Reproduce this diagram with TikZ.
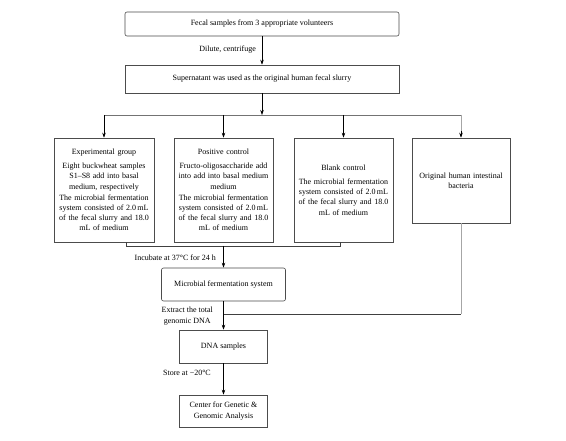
\documentclass[tikz,border=0pt]{standalone}
\usepackage{fontspec}
\setmainfont{Liberation Serif}
\usetikzlibrary{arrows.meta,calc}
\begin{document}
\begin{tikzpicture}[x=1pt,y=-1pt,
  font=\fontsize{8}{10.2}\selectfont,
  box/.style={draw=black!70,line width=0.6pt,align=center,inner sep=1pt},
  rbox/.style={box,rounded corners=2pt},
  arr/.style={draw=black,line width=0.6pt,-{Stealth[length=5pt,width=3.5pt]}},
  ln/.style={draw=black!55,line width=0.6pt},
  lg/.style={draw=black!35,line width=0.9pt},
  lab/.style={inner sep=1pt,align=center}]
\useasboundingbox (0,0) rectangle (566,441);
\fill[white] (0,0) rectangle (566,441);

\node[rbox,minimum width=274pt,minimum height=24pt] (top) at (262,24) {Fecal samples from 3 appropriate volunteers};
\node[box,minimum width=274pt,minimum height=28pt] (slurry) at (262,79) {Supernatant was used as the original human fecal slurry};

\node[box,minimum width=100pt,minimum height=104pt,text width=98pt] (exp) at (104,190)
  {Experimental group\\[4pt]Eight buckwheat samples\\S1--S8 add into basal\\medium, respectively\\[1pt]The microbial fermentation\\system consisted of 2.0\,mL\\of the fecal slurry and 18.0\\mL of medium};
\node[box,minimum width=99pt,minimum height=104pt,text width=97pt] (pos) at (223.5,190)
  {Positive control\\[4pt]Fructo-oligosaccharide add\\into add into basal medium\\medium\\[1pt]The microbial fermentation\\system consisted of 2.0\,mL\\of the fecal slurry and 18.0\\mL of medium};
\node[box,minimum width=99pt,minimum height=104pt,text width=97pt] (blank) at (343.5,190)
  {Blank control\\[4pt]The microbial fermentation\\system consisted of 2.0\,mL\\of the fecal slurry and 18.0\\mL of medium};
\node[box,minimum width=98pt,minimum height=85pt,text width=94pt] (orig) at (461,180.5)
  {Original human intestinal\\bacteria};

\node[rbox,minimum width=124pt,minimum height=33pt] (micro) at (223.5,284.5) {Microbial fermentation system};
\node[box,minimum width=88pt,minimum height=33pt] (dna) at (223.5,346.5) {DNA samples};
\node[box,minimum width=88pt,minimum height=32pt] (cga) at (223.5,411) {Center for Genetic \&\\Genomic Analysis};

% top to slurry
\draw[arr] (top) -- (slurry);
\node[lab,anchor=east] (l1) at (257,50) {Dilute, centrifuge};

% branching
\coordinate (br) at (262,115);
\draw[ln] (br -| exp.north) -- (br -| orig.north);
\draw[arr] (slurry) -- (br);
\draw[arr] (br -| exp.north) -- (exp.north);
\draw[arr] (br -| pos.north) -- (pos.north);
\draw[arr] (br -| blank.north) -- (blank.north);
\draw[lg] (br -| orig.north) -- ($(orig.north)+(0,-7)$);
\draw[arr] ($(orig.north)+(0,-7)$) -- (orig.north);

% collecting
\coordinate (c1) at (126,246);
\coordinate (c2) at (340,246);
\draw[ln,draw=black!75] (c1 |- exp.south) -- (c1) -- (c2) -- (c2 |- blank.south);
\draw[arr] (c1 -| micro.north) -- (micro.north);
\node[lab,anchor=east] (l2) at (217,258) {Incubate at 37°C for 24 h};

% micro to dna
\coordinate (c3) at (223.5,314);
\draw[ln,draw=black!75] (c3) -- (c3 -| orig.south);
\draw[lg] (orig.south) -- (c3 -| orig.south);
\draw[arr] (micro) -- (dna);
\node[lab,anchor=east] (l3) at (214,316) {Extract the total\\genomic DNA};

% dna to center
\draw[arr] (dna) -- (cga);
\node[lab,anchor=east] (l4) at (212,373) {Store at −20°C};
\end{tikzpicture}
\end{document}
